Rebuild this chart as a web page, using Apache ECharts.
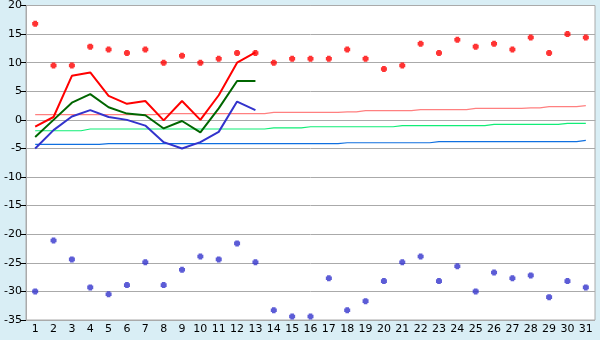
<!DOCTYPE html>
<html><head><meta charset="utf-8">
<script src="https://cdn.jsdelivr.net/npm/echarts@6/dist/echarts.min.js"></script>
<style>html,body{margin:0;padding:0;background:#D9EEF5;}#c{width:600px;height:340px;}</style>
</head><body><div id="c"></div>
<script>
const days = ['1','2','3','4','5','6','7','8','9','10','11','12','13','14','15','16','17','18','19','20','21','22','23','24','25','26','27','28','29','30','31'];
const yTicks = [-35,-30,-25,-20,-15,-10,-5,0,5,10,15,20];
const recordMax = [16.8,9.5,9.5,12.8,12.3,11.7,12.3,10.0,11.2,10.0,10.7,11.7,11.7,10.0,10.7,10.7,10.7,12.3,10.7,8.9,9.5,13.3,11.7,14.0,12.8,13.3,12.3,14.4,11.7,15.0,14.4];
const recordMin = [-30.0,-21.1,-24.4,-29.3,-30.5,-28.9,-24.9,-28.9,-26.2,-23.9,-24.4,-21.6,-24.9,-33.3,-34.4,-34.4,-27.7,-33.3,-31.7,-28.2,-24.9,-23.9,-28.2,-25.6,-30.0,-26.7,-27.7,-27.2,-31.0,-28.2,-29.3];
const tMax = [-1.2,0.5,7.7,8.3,4.2,2.8,3.3,-0.1,3.3,0.0,4.3,10.0,11.8];
const tMean = [-3.0,0.0,3.0,4.5,2.2,1.1,0.8,-1.5,-0.2,-2.2,2.0,6.8,6.8];
const tMin = [-5.0,-1.8,0.6,1.7,0.5,0.0,-1.0,-3.9,-5.0,-3.9,-2.1,3.2,1.7];
const normMax = [0.9,0.9,0.9,0.9,0.9,0.9,0.9,1.1,1.1,1.1,1.1,1.1,1.1,1.3,1.3,1.3,1.3,1.4,1.6,1.6,1.6,1.8,1.8,1.8,2.0,2.0,2.0,2.1,2.3,2.3,2.5];
const normMean = [-1.9,-1.9,-1.9,-1.6,-1.6,-1.6,-1.6,-1.6,-1.6,-1.6,-1.6,-1.6,-1.6,-1.4,-1.4,-1.2,-1.2,-1.2,-1.2,-1.2,-1.0,-1.0,-1.0,-1.0,-1.0,-0.8,-0.8,-0.8,-0.8,-0.6,-0.6];
const normMin = [-4.3,-4.3,-4.3,-4.3,-4.15,-4.15,-4.15,-4.15,-4.15,-4.15,-4.15,-4.15,-4.15,-4.15,-4.15,-4.15,-4.15,-4.0,-4.0,-4.0,-4.0,-4.0,-3.8,-3.8,-3.8,-3.8,-3.8,-3.8,-3.8,-3.8,-3.6];

const plusSym = 'path://M1,0H4V1H5V4H4V5H1V4H0V1H1Z';
const chart = echarts.init(document.getElementById('c'), null, {renderer:'canvas'});
const font = 'DejaVu Sans';
chart.setOption({
  animation:false,
  backgroundColor:'#D9EEF5',
  grid:{left:26,right:5,top:5,bottom:20,show:true,backgroundColor:'#FFFFFF',borderColor:'#AAAAAA',borderWidth:1},
  xAxis:{type:'category',data:days,boundaryGap:true,
    axisLine:{lineStyle:{color:'#AAAAAA',width:1}},
    axisTick:{alignWithLabel:true,interval:0,length:5,lineStyle:{color:'#000000'}},
    axisLabel:{interval:0,color:'#000',fontFamily:font,fontSize:11,margin:4},
    splitLine:{show:false}},
  yAxis:{type:'value',min:yTicks[0],max:yTicks[yTicks.length-1],interval:5,
    axisLine:{show:true,lineStyle:{color:'#AAAAAA'}},
    axisTick:{show:true,length:5,lineStyle:{color:'#000000'}},
    axisLabel:{color:'#000',fontFamily:font,fontSize:11,margin:4},
    splitLine:{lineStyle:{color:'#AAAAAA',width:1}}},
  series:[
    {name:'normMax',type:'line',step:'middle',data:normMax,symbol:'none',lineStyle:{color:'#FF8080',width:1.2},z:2},
    {name:'normMean',type:'line',step:'middle',data:normMean,symbol:'none',lineStyle:{color:'#11EE77',width:1.2},z:2},
    {name:'normMin',type:'line',step:'middle',data:normMin,symbol:'none',lineStyle:{color:'#1070E0',width:1.2},z:2},
    {name:'tMin',type:'line',data:tMin,symbol:'none',lineStyle:{color:'#3333CC',width:2},z:3},
    {name:'tMean',type:'line',data:tMean,symbol:'none',lineStyle:{color:'#006600',width:2},z:3},
    {name:'tMax',type:'line',data:tMax,symbol:'none',lineStyle:{color:'#FF0000',width:2},z:3},
    {name:'recMax',type:'scatter',data:recordMax,symbol:plusSym,symbolSize:6,itemStyle:{color:'#FF0000'},z:4},
    {name:'recMin',type:'scatter',data:recordMin,symbol:plusSym,symbolSize:6,itemStyle:{color:'#3333CC'},z:4}
  ]
});
</script></body></html>
